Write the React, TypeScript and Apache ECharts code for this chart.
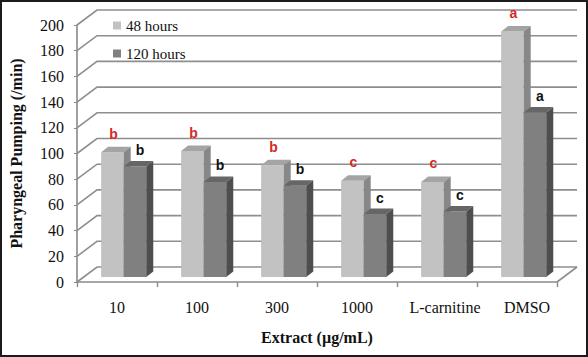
import React, { useEffect, useRef } from "react";
import * as echarts from "echarts";

const categories = ["10", "100", "300", "1000", "L-carnitine", "DMSO"];
const hours48 = [97, 98, 87, 75, 74, 191];
const hours120 = [86, 74, 71, 49, 51, 128];
const letters48 = ["b", "b", "b", "c", "c", "a"];
const letters120 = ["b", "b", "b", "c", "c", "a"];
const yTicks = [0, 20, 40, 60, 80, 100, 120, 140, 160, 180, 200];
const labelShift = [0, 0, 0, 0, 16, 20];

const WALL_DX = 20;
const WALL_DY = -15;
const PLANE_DX = 6.7;
const PLANE_DY = -5;
const BAR_DX = 7;
const BAR_DY = -5.5;
const BAR_RATIO = 0.282;
const SERIF = "'Liberation Serif', 'Times New Roman', serif";
const SANS = "'Liberation Sans', Arial, sans-serif";

const barStyles = [
  { front: "#c2c2c2", top: "#a4a4a4", side: "#878787", letter: "#d42a2a", letterDx: 1 },
  { front: "#808080", top: "#666666", side: "#4e4e4e", letter: "#111111", letterDx: 5 },
];

function makeBarRender(s: number, letters: string[]) {
  return (params: any, api: any) => {
    const cat = api.value(0);
    const val = api.value(1);
    const base = api.coord([cat, 0]);
    const top = api.coord([cat, val]);
    const catW = api.size([1, 0])[0];
    const bw = catW * BAR_RATIO;
    const st = barStyles[s];
    const x0 = base[0] + PLANE_DX + (s === 0 ? -bw : 0);
    const yb = base[1] + PLANE_DY;
    const yt = top[1] + PLANE_DY;
    return {
      type: "group",
      children: [
        {
          type: "rect",
          shape: { x: x0, y: yt, width: bw, height: yb - yt },
          style: { fill: st.front },
        },
        {
          type: "polygon",
          shape: {
            points: [
              [x0, yt],
              [x0 + BAR_DX, yt + BAR_DY],
              [x0 + bw + BAR_DX, yt + BAR_DY],
              [x0 + bw, yt],
            ],
          },
          style: { fill: st.top },
        },
        {
          type: "polygon",
          shape: {
            points: [
              [x0 + bw, yt],
              [x0 + bw + BAR_DX, yt + BAR_DY],
              [x0 + bw + BAR_DX, yb + BAR_DY],
              [x0 + bw, yb],
            ],
          },
          style: { fill: st.side },
        },
        {
          type: "text",
          x: x0 + bw / 2 + st.letterDx,
          y: yt + BAR_DY - (s === 0 ? 6 : 4),
          style: {
            text: letters[params.dataIndex],
            fill: st.letter,
            font: `bold 14px ${SANS}`,
            textAlign: "center",
            textVerticalAlign: "bottom",
          },
        },
      ],
    };
  };
}

export default function App() {
  const ref = useRef<HTMLDivElement>(null);
  useEffect(() => {
    if (!ref.current) return;
    const chart = echarts.init(ref.current, null, { renderer: "svg" });
    const wallRender = (params: any, api: any) => {
      const cs = params.coordSys;
      const v = api.value(1);
      const y = api.coord([0, v])[1];
      const left = cs.x;
      const right = cs.x + cs.width;
      const children: any[] = [
        {
          type: "polyline",
          shape: {
            points: [
              [left, y],
              [left + WALL_DX, y + WALL_DY],
              [right + WALL_DX, y + WALL_DY],
            ],
          },
          style: { stroke: "#8e8e8e", lineWidth: 1.6, fill: "none" },
        },
      ];
      if (v === 0) {
        children.push({
          type: "line",
          shape: { x1: right, y1: y, x2: right + WALL_DX, y2: y + WALL_DY },
          style: { stroke: "#8e8e8e", lineWidth: 1.6 },
        });
      }
      return { type: "group", children };
    };
    const richLabel = { fontFamily: SERIF, fontSize: 16, color: "#111" };
    chart.setOption({
      animation: false,
      backgroundColor: "#ffffff",
      grid: { left: 74, right: 31, top: 25, bottom: 75, containLabel: false },
      legend: {
        data: ["48 hours", "120 hours"],
        orient: "vertical",
        left: 108,
        top: 13,
        icon: "rect",
        itemWidth: 8,
        itemHeight: 8,
        itemGap: 13,
        textStyle: { fontFamily: SERIF, fontSize: 15, color: "#111" },
      },
      xAxis: {
        type: "category",
        data: categories,
        name: "Extract (µg/mL)",
        nameLocation: "middle",
        nameGap: 47,
        nameTextStyle: { fontFamily: SERIF, fontSize: 16, fontWeight: "bold", color: "#111" },
        axisLine: { show: true, lineStyle: { color: "#8a8a8a", width: 1.6 } },
        axisTick: { show: true, length: 5, lineStyle: { color: "#8a8a8a", width: 1.4 } },
        axisLabel: {
          interval: 0,
          margin: 17,
          fontFamily: SERIF,
          fontSize: 16,
          color: "#111",
          formatter: (v: string) => {
            const i = categories.indexOf(v);
            return labelShift[i] ? `{s${i}|${v}}` : v;
          },
          rich: {
            s4: { ...richLabel, padding: [0, 0, 0, labelShift[4]] },
            s5: { ...richLabel, padding: [0, 0, 0, labelShift[5]] },
          },
        },
        splitLine: { show: false },
      },
      yAxis: {
        type: "value",
        min: 0,
        max: 200,
        interval: 20,
        name: "Pharyngeal Pumping (/min)",
        nameLocation: "middle",
        nameGap: 53,
        nameRotate: 90,
        nameTextStyle: { fontFamily: SERIF, fontSize: 16, fontWeight: "bold", color: "#111" },
        axisLine: { show: true, lineStyle: { color: "#8a8a8a", width: 1.6 } },
        axisTick: { show: true, length: 3, lineStyle: { color: "#8a8a8a" } },
        axisLabel: { margin: 13, fontFamily: SERIF, fontSize: 16, color: "#111" },
        splitLine: { show: false },
      },
      series: [
        {
          type: "custom",
          name: "walls",
          silent: true,
          renderItem: wallRender,
          data: yTicks.map((v) => [0, v]),
          z: 1,
        },
        {
          type: "custom",
          name: "48 hours",
          itemStyle: { color: barStyles[0].front },
          renderItem: makeBarRender(0, letters48),
          data: hours48.map((v, i) => [i, v]),
          z: 2,
        },
        {
          type: "custom",
          name: "120 hours",
          itemStyle: { color: barStyles[1].front },
          renderItem: makeBarRender(1, letters120),
          data: hours120.map((v, i) => [i, v]),
          z: 3,
        },
      ],
      graphic: [
        {
          type: "rect",
          shape: { x: 1, y: 1, width: 586, height: 355 },
          style: { fill: "none", stroke: "#1c1c1c", lineWidth: 2 },
          silent: true,
          z: 100,
        },
      ],
    });
    return () => chart.dispose();
  }, []);
  return (
    <div
      ref={ref}
      style={{ position: "absolute", left: 0, top: 0, width: 588, height: 357 }}
    />
  );
}
